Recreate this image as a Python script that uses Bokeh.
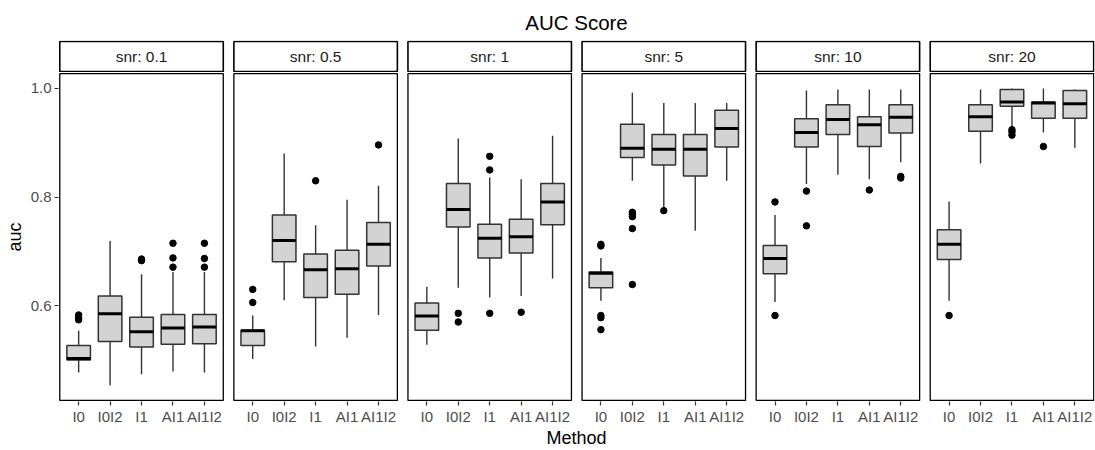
import math
from bokeh.plotting import figure
from bokeh.layouts import column
from bokeh.models import FixedTicker, PrintfTickFormatter, Range1d
from bokeh.embed import file_html
from bokeh.resources import INLINE
from bokeh.core.properties import value

# ---------------- data ----------------
title_text = "AUC Score"
snr_labels = ["snr: 0.1", "snr: 0.5", "snr: 1", "snr: 5", "snr: 10", "snr: 20"]
methods = ["I0", "I0I2", "I1", "AI1", "AI1I2"]

lower_whisker = [
    [0.477, 0.453, 0.474, 0.479, 0.477],
    [0.502, 0.610, 0.525, 0.541, 0.583],
    [0.528, 0.633, 0.615, 0.618, 0.650],
    [0.609, 0.830, 0.781, 0.738, 0.830],
    [0.607, 0.824, 0.841, 0.833, 0.864],
    [0.609, 0.862, 0.925, 0.919, 0.891],
]
q1 = [
    [0.500, 0.534, 0.524, 0.529, 0.530],
    [0.527, 0.681, 0.615, 0.621, 0.673],
    [0.555, 0.745, 0.688, 0.697, 0.749],
    [0.633, 0.873, 0.859, 0.839, 0.892],
    [0.659, 0.892, 0.915, 0.893, 0.918],
    [0.685, 0.921, 0.967, 0.945, 0.945],
]
median = [
    [0.503, 0.585, 0.552, 0.559, 0.561],
    [0.554, 0.720, 0.666, 0.668, 0.713],
    [0.581, 0.777, 0.724, 0.727, 0.791],
    [0.660, 0.890, 0.888, 0.888, 0.926],
    [0.687, 0.919, 0.943, 0.933, 0.947],
    [0.713, 0.948, 0.975, 0.973, 0.972],
]
q3 = [
    [0.527, 0.618, 0.579, 0.584, 0.584],
    [0.555, 0.767, 0.695, 0.702, 0.753],
    [0.605, 0.825, 0.750, 0.759, 0.825],
    [0.662, 0.934, 0.915, 0.915, 0.960],
    [0.711, 0.944, 0.970, 0.948, 0.970],
    [0.740, 0.970, 0.998, 0.975, 0.996],
]
upper_whisker = [
    [0.554, 0.719, 0.658, 0.662, 0.662],
    [0.582, 0.880, 0.748, 0.795, 0.821],
    [0.635, 0.908, 0.836, 0.833, 0.913],
    [0.688, 0.992, 0.973, 0.973, 0.973],
    [0.767, 0.996, 0.998, 0.998, 0.998],
    [0.792, 0.998, 1.000, 1.000, 0.998],
]
# outliers: panel index, method index, value
outlier_panel = [0, 0, 0, 0, 0, 0, 0, 0, 0, 0, 0,
                 1, 1, 1, 1,
                 2, 2, 2, 2, 2, 2,
                 3, 3, 3, 3, 3, 3, 3, 3, 3, 3, 3,
                 4, 4, 4, 4, 4, 4, 4,
                 5, 5, 5, 5, 5]
outlier_method = [0, 0, 0, 2, 2, 3, 3, 3, 4, 4, 4,
                  0, 0, 2, 4,
                  1, 1, 2, 2, 2, 3,
                  0, 0, 0, 0, 0, 1, 1, 1, 1, 1, 2,
                  0, 0, 1, 1, 3, 4, 4,
                  0, 2, 2, 2, 3]
outlier_value = [0.583, 0.578, 0.574, 0.686, 0.683, 0.715, 0.688, 0.671, 0.715, 0.687, 0.671,
                 0.630, 0.606, 0.830, 0.896,
                 0.586, 0.570, 0.875, 0.850, 0.586, 0.588,
                 0.713, 0.710, 0.582, 0.578, 0.556, 0.772, 0.768, 0.764, 0.742, 0.639, 0.775,
                 0.791, 0.582, 0.811, 0.747, 0.813, 0.838, 0.835,
                 0.582, 0.924, 0.920, 0.914, 0.893]
y_ticks = [0.6, 0.8, 1.0]

# ---------------- layout constants ----------------
PITCH = 5.537          # panel pitch in category units
PW = 5.2               # panel width (0.4 .. 5.6)
BOXW = 0.75
Y_LO, Y_HI = 0.4257, 1.0273     # panel limits (ggplot expansion)
FONT = "Liberation Sans"

def xpos(i, j):
    return round(i * PITCH + 0.6 + j, 4)

x_range = Range1d(-0.041, 32.91)
pl = [i * PITCH for i in range(len(snr_labels))]
pr = [i * PITCH + PW for i in range(len(snr_labels))]

# ---------------- strip figure (title + facet labels) ----------------
top = figure(width=1095, height=72, output_backend="svg", toolbar_location=None,
             x_range=x_range, y_range=Range1d(-1, 31), x_axis_type=None, y_axis_type=None,
             min_border_left=58, min_border_right=1, min_border_top=40, min_border_bottom=0,
             title=title_text)
top.outline_line_color = None
top.xgrid.visible = False
top.ygrid.visible = False
top.title.align = "center"
top.title.text_font = FONT
top.title.text_font_size = "20.5px"
top.title.text_font_style = "normal"
top.title.text_color = "black"
top.title.standoff = 13
top.quad(left=pl, right=pr, bottom=[0] * 6, top=[30] * 6,
         fill_color="white", line_color="black", line_width=1.6)
top.text(x=[(a + b) / 2 for a, b in zip(pl, pr)], y=[15] * 6, text=snr_labels,
         text_font=value(FONT), text_font_size="15.5px", text_color="#1A1A1A",
         text_align="center", text_baseline="middle")

# ---------------- main figure ----------------
d = 0.002
p = figure(width=1095, height=378, output_backend="svg", toolbar_location=None,
           x_range=x_range, y_range=Range1d(Y_LO - d, Y_HI + d),
           min_border_left=58, min_border_right=1, min_border_top=0, min_border_bottom=45)
p.outline_line_color = None
p.xgrid.visible = False
p.ygrid.visible = False
p.background_fill_color = "white"
p.border_fill_color = "white"

p.quad(left=pl, right=pr, bottom=[Y_LO] * 6, top=[Y_HI] * 6,
       fill_color=None, line_color="black", line_width=1.3)

xs, lw, b1, md, b3, uw = [], [], [], [], [], []
for i in range(len(snr_labels)):
    for j in range(len(methods)):
        xs.append(xpos(i, j))
        lw.append(lower_whisker[i][j]); b1.append(q1[i][j]); md.append(median[i][j])
        b3.append(q3[i][j]); uw.append(upper_whisker[i][j])

p.segment(x0=xs, y0=b3, x1=xs, y1=uw, line_color="#333333", line_width=1.4)
p.segment(x0=xs, y0=lw, x1=xs, y1=b1, line_color="#333333", line_width=1.4)
p.quad(left=[x - BOXW / 2 for x in xs], right=[x + BOXW / 2 for x in xs], bottom=b1, top=b3,
       fill_color="#D3D3D3", line_color="#333333", line_width=1.5)
p.segment(x0=[x - BOXW / 2 for x in xs], y0=md, x1=[x + BOXW / 2 for x in xs], y1=md,
          line_color="black", line_width=3)

ox = [xpos(i, j) for i, j in zip(outlier_panel, outlier_method)]
p.scatter(x=ox, y=outlier_value, size=6.5, color="black")

p.xaxis.ticker = FixedTicker(ticks=xs)
p.xaxis.major_label_overrides = {x: methods[k % 5] for k, x in enumerate(xs)}
p.xaxis.axis_line_color = None
p.xaxis.major_tick_out = 4
p.xaxis.major_tick_in = 0
p.xaxis.major_tick_line_color = "#333333"
p.xaxis.major_tick_line_width = 1.2
p.xaxis.minor_tick_line_color = None
p.xaxis.major_label_text_font = FONT
p.xaxis.major_label_text_font_size = "15px"
p.xaxis.major_label_text_line_height = 1.0
p.xaxis.major_label_text_color = "#4D4D4D"
p.xaxis.major_label_standoff = 2
p.xaxis.axis_label = "Method"
p.xaxis.axis_label_text_font = FONT
p.xaxis.axis_label_text_font_size = "18px"
p.xaxis.axis_label_text_line_height = 1.0
p.xaxis.axis_label_text_font_style = "normal"
p.xaxis.axis_label_text_color = "black"
p.xaxis.axis_label_standoff = 0

p.yaxis.ticker = FixedTicker(ticks=y_ticks)
p.yaxis.formatter = PrintfTickFormatter(format="%.1f")
p.yaxis.axis_line_color = None
p.yaxis.major_tick_out = 4
p.yaxis.major_tick_in = 0
p.yaxis.major_tick_line_color = "#333333"
p.yaxis.major_tick_line_width = 1.2
p.yaxis.minor_tick_line_color = None
p.yaxis.major_label_text_font = FONT
p.yaxis.major_label_text_font_size = "15px"
p.yaxis.major_label_text_color = "#4D4D4D"
p.yaxis.major_label_standoff = 3
p.yaxis.axis_label = "auc"
p.yaxis.axis_label_text_font = FONT
p.yaxis.axis_label_text_font_size = "18px"
p.yaxis.axis_label_text_font_style = "normal"
p.yaxis.axis_label_text_color = "black"
p.yaxis.axis_label_standoff = 3

layout = column(top, p, spacing=0)
open("out.html", "w").write(file_html(layout, INLINE))
